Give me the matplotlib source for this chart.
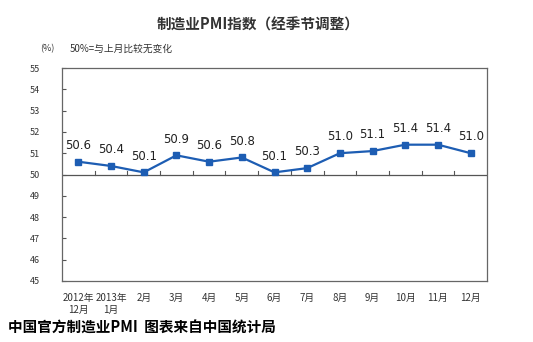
import matplotlib
matplotlib.use("Agg")
import matplotlib.pyplot as plt
import numpy as np

plt.rcParams['font.family'] = ['Noto Sans CJK SC', 'DejaVu Sans']

months = ["2012年\n12月", "2013年\n1月", "2月", "3月", "4月", "5月", "6月",
          "7月", "8月", "9月", "10月", "11月", "12月"]
pmi = [50.6, 50.4, 50.1, 50.9, 50.6, 50.8, 50.1, 50.3, 51.0, 51.1, 51.4, 51.4, 51.0]
yticks = [45, 46, 47, 48, 49, 50, 51, 52, 53, 54, 55]

W, H = 533, 342
fig = plt.figure(figsize=(W / 100, H / 100), dpi=100)
ax = fig.add_axes([62 / W, 1 - 281 / H, (487 - 62) / W, (281 - 68) / H])

x = np.arange(len(pmi))
color = "#1d5db3"
ax.plot(x, pmi, color=color, lw=1.6, marker="s", ms=4.5, zorder=3)
for xi, v in zip(x, pmi):
    ax.annotate(f"{v:.1f}", (xi, v), xytext=(0, 7), textcoords="offset points",
                ha="center", va="bottom", fontsize=8.5, color="#222222",
                family="DejaVu Sans")

ax.set_xlim(-0.5, len(pmi) - 0.5)
ax.set_ylim(45, 55)
ax.set_yticks(yticks)
ax.set_yticklabels([str(t) for t in yticks], fontsize=6.5, color="#333333")
ax.tick_params(axis="y", direction="in", length=3, width=0.8, pad=16, color="#555555")
ax.set_xticks([])
for s in ax.spines.values():
    s.set_color("#666666")
    s.set_linewidth(0.9)

# baseline at 50 with category separators
ax.axhline(50, color="#555555", lw=0.9, zorder=2)
for b in np.arange(0.5, len(pmi) - 1, 1.0):
    ax.plot([b, b], [50, 50.18], color="#555555", lw=0.8, zorder=2)

# category labels below the box
for xi, lab in zip(x, months):
    ax.text(xi, 44.45, lab, ha="center", va="top", fontsize=7,
            color="#333333", linespacing=1.3)

fig.text(258 / W, 1 - 25 / H, "制造业PMI指数（经季节调整）", ha="center", va="center",
         fontsize=10.5, fontweight="bold", color="#333333")
fig.text(47 / W, 1 - 49 / H, "(%)", ha="center", va="center", fontsize=6.5, color="#333333")
fig.text(70 / W, 1 - 49 / H, "50%=与上月比较无变化", ha="left", va="center",
         fontsize=7, color="#333333")
fig.text(8 / W, 1 - 328 / H, "中国官方制造业PMI  图表来自中国统计局", ha="left",
         va="center", fontsize=10.5, fontweight="bold", color="black")

fig.savefig("out.png", dpi=100, facecolor="white")
